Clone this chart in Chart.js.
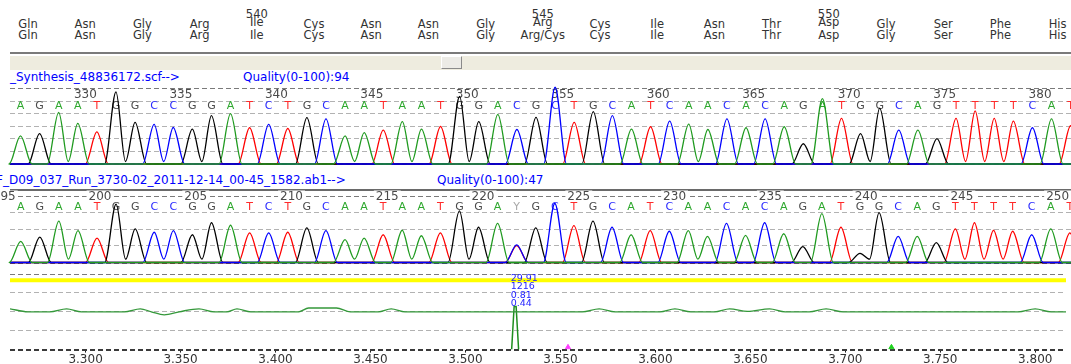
<!DOCTYPE html>
<html><head><meta charset="utf-8">
<script src="https://cdn.jsdelivr.net/npm/chart.js@4.4.1/dist/chart.umd.min.js"></script>
<style>
html,body{margin:0;padding:0;background:#fff;}
body{width:1071px;height:364px;overflow:hidden;position:relative;font-family:"DejaVu Sans",Verdana,sans-serif;}
.abs{position:absolute;}
.aa{position:absolute;width:80px;text-align:center;font-size:11.5px;color:#333;line-height:12px;white-space:nowrap;}
.file{position:absolute;font-size:12px;color:#0000ff;line-height:14px;white-space:nowrap;}
canvas{position:absolute;left:0;}
</style></head><body>
<div id="hdr"></div>
<div class="abs" style="left:10px;top:52px;width:1061px;height:2px;background:#7a7a7a"></div>
<div class="abs" style="left:10px;top:56px;width:1061px;height:14px;background:#eeecdf"></div>
<div class="abs" style="left:441px;top:56px;width:19px;height:11px;background:#ecebe6;border:1px solid;border-color:#fff #8a8a8a #8a8a8a #fff"></div>
<div class="file" id="f1" style="left:10px;top:70px"></div>
<div class="file" id="q1" style="left:243px;top:70px"></div>
<canvas id="c1" width="1071" height="84" style="top:84px"></canvas>
<div class="file" id="f2" style="left:-4px;top:173px"></div>
<div class="file" id="q2" style="left:437px;top:173px"></div>
<div class="abs" style="left:10px;top:189px;width:1061px;height:2px;background:#6a6a6a"></div>
<canvas id="c2" width="1071" height="78" style="top:188px"></canvas>
<canvas id="c3" width="1071" height="102" style="top:266px"></canvas>
<script>
// ---------------- data ----------------
const aaReference = ['Gln','Asn','Gly','Arg','Ile','Cys','Asn','Asn','Gly','Arg','Cys','Ile','Asn','Thr','Asp','Gly','Ser','Phe','His'];
const aaSample    = ['Gln','Asn','Gly','Arg','Ile','Cys','Asn','Asn','Gly','Arg/Cys','Cys','Ile','Asn','Thr','Asp','Gly','Ser','Phe','His'];
const firstCodon = 536;

const refFileName = '_Synthesis_48836172.scf-->';
const refQuality = 'Quality(0-100):94';
const sampleFileName = 'F_D09_037_Run_3730-02_2011-12-14_00-45_1582.ab1-->';
const sampleQuality = 'Quality(0-100):47';

const seqRef = 'AGAATGGCCGGATCTGCAATAATGGACGCTGCATCAACACAGATGGCAGTTTTCAT'.split('');
const peaksRef = [2.23,2.42,4.11,3.23,2.55,5.73,3.31,3.15,2.90,2.77,
                  3.84,4.00,2.88,3.15,2.82,3.68,3.58,2.23,2.50,2.69,
                  3.36,2.77,2.98,5.38,3.36,3.95,2.74,3.71,6.10,3.31,
                  4.17,3.84,2.77,2.96,3.41,3.17,2.74,3.58,2.88,3.58,
                  2.96,1.61,5.19,3.63,2.42,4.44,2.69,2.69,2.02,3.63,
                  4.22,3.63,3.41,2.88,3.58,3.04];
const refFirstBase = 326.6;
const refBaseStep = 1.0;
const refRange = [326.05, 381.62];

const seqSample = 'AGAATGGCCGGATCTGCAATAATGGAYGCTGCATCAACACAGATGGCAGTTTTCAT'.split('');
const peaksSample = [1.27,1.53,2.49,1.92,1.47,3.51,2.02,1.82,1.92,1.67,
                     2.39,2.24,1.78,1.78,1.82,2.08,1.92,1.37,1.47,1.67,
                     1.94,1.61,1.78,3.10,2.12,2.35,1.06,2.08,3.55,2.22,
                     2.49,2.12,1.67,1.92,1.88,1.92,1.57,2.35,1.63,2.39,
                     1.73,0.96,2.94,2.12,0.55,3.00,1.57,1.57,1.20,2.02,
                     2.39,1.94,1.88,1.67,2.02,1.78];
const ambiguousSample = [{index:26, base:'C', height:1.06},{index:26, base:'T', height:1.02}];
const sampleFirstBase = 195.86;
const sampleBaseStep = 0.996;
const sampleRange = [195.30, 250.70];

const diffX = [3.2602,3.2696,3.2811,3.2900,3.2979,3.3204,3.3288,3.3346,3.3414,3.3493,
               3.3597,3.3676,3.3744,3.3797,3.3870,3.4122,3.4174,3.4321,3.4394,3.4541,
               3.4609,3.4682,3.5615,3.5704,3.5788,3.6024,3.6103,3.6187,3.6312,3.6391,
               3.6485,3.6601,3.6684,3.6810,3.6899,3.6988,3.7911,3.8000,3.8084,3.8162];
const diffY = [54,50,50,54,50,50,54,50,46,50,
               54,50,50,54,50,50,55,55,50,50,
               54,50,50,54,50,50,54,50,50,54,
               50.5,54,50,50,54,50,50,54,50,50];
const spikeX = [3.52432,3.52563,3.52668,3.52799];
const spikeY = [0,57,57,0];
const spikeLabels = ['29.91','1216','0.81','0.44'];
const qualityLine = 91.6;
const markerX = [3.554, 3.7243];
const markerY = [3, 3];
const diffRange = [3.2602, 3.8162];

// ---------------- styles ----------------
const traceColors = {A:'#1f9a1f', C:'#0000ff', G:'#000000', T:'#ff0000'};
const letterColors = {A:'#2ea82e', C:'#2a2aff', G:'#4a4a4a', T:'#ff2a2a', Y:'#a8a8a8'};
const markerColors = ['#ff3cff', '#1ed21e'];
const FONT = '"DejaVu Sans", Verdana, sans-serif';

// ---------------- header & labels ----------------
const hdr = document.getElementById('hdr');
function addText(txt, cx, cy) {
  const d = document.createElement('div');
  d.className = 'aa'; d.textContent = txt;
  d.style.left = (cx - 40) + 'px'; d.style.top = (cy - 6) + 'px';
  hdr.appendChild(d);
}
aaReference.forEach((name, i) => {
  const cx = 28 + 57.2 * i;
  const num = firstCodon + i;
  if (num % 5 === 0) { addText(String(num), cx, 13.5); addText(name, cx, 22); }
  else addText(name, cx, 24);
  addText(aaSample[i], cx, 34.5);
});
document.getElementById('f1').textContent = refFileName;
document.getElementById('q1').textContent = refQuality;
document.getElementById('f2').textContent = sampleFileName;
document.getElementById('q2').textContent = sampleQuality;

// ---------------- trace builders ----------------
const HALF = 0.6, VALLEY = 0.2;
function tracePoints(seq, heights, base, start, step, extra, range) {
  const peaks = [];
  seq.forEach((c, k) => { if (c === base) peaks.push({k, h: heights[k]}); });
  extra.forEach(e => { if (e.base === base) peaks.push({k: e.index, h: e.height}); });
  peaks.sort((a, b) => a.k - b.k);
  const pts = [{x: range[0], y: 0}];
  peaks.forEach((p, i) => {
    const prev = peaks[i - 1], next = peaks[i + 1];
    const x = start + p.k * step;
    if (!prev || p.k - prev.k > 1) pts.push({x: x - HALF * step, y: 0});
    pts.push({x, y: p.h});
    if (next && next.k - p.k === 1) pts.push({x: x + 0.5 * step, y: VALLEY});
    else pts.push({x: x + HALF * step, y: 0});
  });
  pts.push({x: range[1], y: 0});
  return pts;
}
function traceDatasets(seq, heights, start, step, extra, range) {
  return ['A', 'C', 'G', 'T'].map(b => ({
    label: b,
    data: tracePoints(seq, heights, b, start, step, extra, range),
    borderColor: traceColors[b], borderWidth: 1.3, pointRadius: 0,
    cubicInterpolationMode: 'monotone', clip: false, fill: false,
    borderJoinStyle: 'round'
  }));
}

const seqTextPlugin = {
  id: 'seqText',
  beforeDatasetsDraw(chart, args, o) {
    if (!o || !o.seq) return;
    const ctx = chart.ctx, xs = chart.scales.x, ys = chart.scales.y;
    ctx.save();
    ctx.font = '12px ' + FONT; ctx.textAlign = 'center'; ctx.textBaseline = 'middle';
    const vals = xs.ticks.map(t => t.value);
    if (vals.length && vals[0] - 5 > xs.min - 1) vals.unshift(vals[0] - 5);
    const ny = ys.getPixelForValue(o.numY) + o.numDy;
    vals.forEach(v => {
      const px = xs.getPixelForValue(v);
      const s = String(Math.round(v));
      if (o.numBg) {
        const w = ctx.measureText(s).width;
        ctx.fillStyle = '#fff'; ctx.fillRect(px - w / 2 - 2, ny - 6, w + 4, 12);
      }
      ctx.fillStyle = '#4a4a4a'; ctx.fillText(s, px, ny);
    });
    ctx.font = '11px ' + FONT;
    const ly = ys.getPixelForValue(o.letterY);
    o.seq.forEach((c, k) => {
      ctx.fillStyle = letterColors[c] || '#555';
      ctx.fillText(c, xs.getPixelForValue(o.start + k * o.step), ly);
    });
    ctx.restore();
  }
};

function gridY(topVal, baseColor) {
  return {
    color: c => c.tick.value === 0 ? baseColor : (c.tick.value === topVal ? '#7a7a7a' : '#b2b2b2'),
    lineWidth: c => c.tick.value === 0 ? 2 : 1,
    drawTicks: false
  };
}

function traceChart(id, seq, heights, start, step, extra, range, ymax, pad, textOpts) {
  return new Chart(document.getElementById(id), {
    type: 'line',
    data: {datasets: traceDatasets(seq, heights, start, step, extra, range)},
    options: {
      responsive: false, animation: false, parsing: true,
      layout: {padding: pad},
      plugins: {legend: {display: false}, tooltip: {enabled: false}, seqText: textOpts},
      scales: {
        x: {type: 'linear', min: range[0], max: range[1], display: false,
            ticks: {stepSize: 5, includeBounds: false}},
        y: {min: 0, max: ymax, display: true,
            ticks: {display: false, stepSize: 1},
            grid: gridY(ymax, '#6e6e6e'),
            border: {display: false, dash: [5, 3]}}
      }
    },
    plugins: [seqTextPlugin]
  });
}

traceChart('c1', seqRef, peaksRef, refFirstBase, refBaseStep, [], refRange, 6,
  {left: 10, right: 0, top: 4.5, bottom: 4},
  {seq: seqRef, start: refFirstBase, step: refBaseStep, numY: 6, numDy: 6, letterY: 4.62, numBg: false});

traceChart('c2', seqSample, peaksSample, sampleFirstBase, sampleBaseStep, ambiguousSample, sampleRange, 4,
  {left: 10, right: 0, top: 8, bottom: 3.5},
  {seq: seqSample, start: sampleFirstBase, step: sampleBaseStep, numY: 4, numDy: 0.5, letterY: 3.33, numBg: true});

// ---------------- bottom panel ----------------
const spikeLabelPlugin = {
  id: 'spikeLabels',
  afterDatasetsDraw(chart) {
    const ctx = chart.ctx, xs = chart.scales.x, ys = chart.scales.y;
    const px = xs.getPixelForValue(spikeX[1]) - 3.5;
    const top = ys.getPixelForValue(Math.max(...spikeY));
    ctx.save();
    ctx.font = '9.5px ' + FONT; ctx.textAlign = 'left'; ctx.textBaseline = 'middle';
    ctx.fillStyle = '#2424ff';
    const n = spikeLabels.length;
    spikeLabels.forEach((s, i) => ctx.fillText(s, px, top - 3 - (n - 1 - i) * 8.4));
    ctx.restore();
  }
};

new Chart(document.getElementById('c3'), {
  type: 'line',
  data: {datasets: [
    {data: [{x: diffRange[0], y: qualityLine}, {x: diffRange[1], y: qualityLine}],
     borderColor: '#ffff00', borderWidth: 4, pointRadius: 0, tension: 0},
    {data: diffX.map((x, i) => ({x, y: diffY[i]})),
     borderColor: '#34983a', borderWidth: 1.3, pointRadius: 0, cubicInterpolationMode: 'monotone'},
    {data: spikeX.map((x, i) => ({x, y: spikeY[i]})),
     borderColor: '#1e8e1e', borderWidth: 1.5, pointRadius: 0, tension: 0},
    {type: 'scatter', data: markerX.map((x, i) => ({x, y: markerY[i]})),
     pointStyle: 'triangle', pointRadius: 3, pointBorderWidth: 1,
     pointBackgroundColor: markerColors, pointBorderColor: markerColors, showLine: false}
  ]},
  options: {
    responsive: false, animation: false,
    layout: {padding: {left: 10, right: 0, top: 8, bottom: 1}},
    plugins: {legend: {display: false}, tooltip: {enabled: false}},
    scales: {
      x: {type: 'linear', min: diffRange[0], max: diffRange[1], position: 'bottom',
          ticks: {stepSize: 0.05, includeBounds: false, autoSkip: false, maxRotation: 0,
                  padding: 0, color: '#333', font: {family: FONT, size: 12},
                  callback: v => Number(v).toFixed(3)},
          grid: {drawOnChartArea: false, drawTicks: true, tickLength: 3, tickColor: '#222'},
          border: {display: false}},
      y: {min: 0, max: 100, display: true,
          ticks: {display: false, stepSize: 25},
          grid: gridY(100, '#3a3a3a'),
          border: {display: false, dash: [5, 3]}}
    }
  },
  plugins: [spikeLabelPlugin]
});
</script>
</body></html>
